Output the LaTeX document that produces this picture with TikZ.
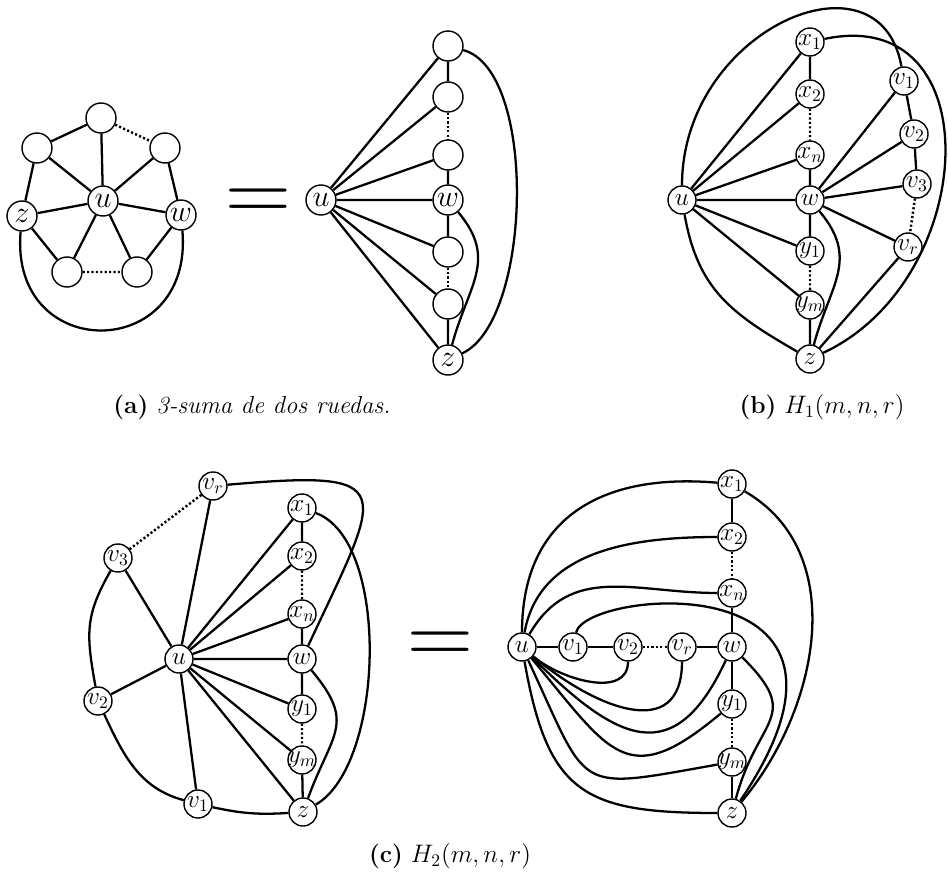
\documentclass[tikz,border=0pt]{standalone}
\usepackage{fontspec}
\begin{document}
\begin{tikzpicture}[
  x=0.2mm, y=0.2mm,
  vtx/.style={circle, draw, line width=0.8pt, inner sep=0pt, minimum size=6mm, font=\LARGE},
  svtx/.style={circle, draw, line width=0.8pt, inner sep=-1.5pt, minimum size=5.6mm, font=\Large},
  ln/.style={line width=1.3pt},
  dotln/.style={line width=1.4pt, dash pattern=on 1.2pt off 1.3pt},
  eqsign/.style={font=\fontsize{52}{52}\selectfont},
  captxt/.style={font=\fontsize{14}{17}\selectfont}
]
  \useasboundingbox (0,0) rectangle (948,-876);

  \node[vtx] (a1) at (101,-118) {};
  \node[vtx] (a2) at (37,-148) {};
  \node[vtx] (a3) at (165,-148) {};
  \node[vtx] (au) at (103,-201) {$u$};
  \node[vtx] (az) at (22,-216) {$z$};
  \node[vtx] (aw) at (181,-215) {$w$};
  \node[vtx] (a4) at (67,-272) {};
  \node[vtx] (a5) at (137,-272) {};
  \draw[ln] (a1) -- (a2) (a1) -- (au) (a2) -- (au) (a3) -- (au) (a2) -- (az) (a3) -- (aw)
    (az) -- (au) (aw) -- (au) (az) -- (a4) (aw) -- (a5) (a4) -- (au) (a5) -- (au);
  \draw[dotln] (a1) -- (a3) (a4) -- (a5);
  \draw[ln] (az) to[out=-95, in=-85, looseness=2.1] (aw);

  \node[eqsign] (eqa) at (258,-205) {=};

  \node[vtx] (u0) at (321,-200) {$u$};
  \node[vtx] (p1) at (448,-46) {};
  \node[vtx] (p2) at (448,-97) {};
  \node[vtx] (p3) at (448,-155) {};
  \node[vtx] (pw) at (448,-200) {$w$};
  \node[vtx] (p5) at (448,-252) {};
  \node[vtx] (p6) at (448,-304) {};
  \node[vtx] (pz) at (448,-360) {$z$};
  \draw[ln] (u0) -- (p1) (u0) -- (p2) (u0) -- (p3) (u0) -- (pw) (u0) -- (p5) (u0) -- (p6) (u0) -- (pz)
    (p1) -- (p2) (p3) -- (pw) (pw) -- (p5) (p6) -- (pz);
  \draw[dotln] (p2) -- (p3) (p5) -- (p6);
  \draw[ln] (p1) to[out=-15, in=25, looseness=0.65] (pz);
  \draw[ln] (pw) to[out=-50, in=75, looseness=1.2] (pz);

  \node[captxt] (capa) at (252,-407) {\textbf{(a)} \textit{3-suma de dos ruedas.}};

  \node[svtx] (hu) at (682,-200) {$u$};
  \node[svtx] (hx1) at (810,-42) {$x_1$};
  \node[svtx] (hx2) at (810,-94) {$x_2$};
  \node[svtx] (hxn) at (810,-155) {$x_n$};
  \node[svtx] (hw) at (810,-200) {$w$};
  \node[svtx] (hy1) at (810,-251) {$y_1$};
  \node[svtx] (hym) at (810,-305) {$y_m$};
  \node[svtx] (hz) at (810,-359) {$z$};
  \node[svtx] (hv1) at (904,-81) {$v_1$};
  \node[svtx] (hv2) at (914,-134) {$v_2$};
  \node[svtx] (hv3) at (917,-184) {$v_3$};
  \node[svtx] (hvr) at (908,-247) {$v_r$};
  \draw[ln] (hu) -- (hx1) (hu) -- (hx2) (hu) -- (hxn) (hu) -- (hw) (hu) -- (hy1) (hu) -- (hym)
    (hx1) -- (hx2) (hxn) -- (hw) (hw) -- (hy1) (hym) -- (hz)
    (hw) -- (hv1) (hw) -- (hv2) (hw) -- (hv3) (hw) -- (hvr)
    (hv1) -- (hv2) (hv2) -- (hv3) (hvr) -- (hz);
  \draw[dotln] (hx2) -- (hxn) (hy1) -- (hym) (hv3) -- (hvr);
  \draw[ln] (hu) to[out=90, in=100, out distance=31mm, in distance=25mm] (hv1);
  \draw[ln] (hx1) to[out=12, in=25, looseness=1.4] (hz);
  \draw[ln] (hu) to[out=-80, in=150, looseness=1.1] (hz);
  \draw[ln] (hw) to[out=-50, in=75, looseness=1.2] (hz);

  \node[captxt] (capb) at (822,-407) {\textbf{(b)} $H_1(m,n,r)$};

  \node[svtx] (lu) at (179,-659) {$u$};
  \node[svtx] (lvr) at (213,-486) {$v_r$};
  \node[svtx] (lv3) at (118,-558) {$v_3$};
  \node[svtx] (lv2) at (98,-701) {$v_2$};
  \node[svtx] (lv1) at (198,-804) {$v_1$};
  \node[svtx] (lx1) at (302,-508) {$x_1$};
  \node[svtx] (lx2) at (302,-556) {$x_2$};
  \node[svtx] (lxn) at (302,-614) {$x_n$};
  \node[svtx] (lw) at (302,-659) {$w$};
  \node[svtx] (ly1) at (302,-709) {$y_1$};
  \node[svtx] (lym) at (302,-760) {$y_m$};
  \node[svtx] (lz) at (303,-812) {$z$};
  \draw[ln] (lu) -- (lvr) (lu) -- (lv3) (lu) -- (lv2) (lu) -- (lv1)
    (lu) -- (lx1) (lu) -- (lx2) (lu) -- (lxn) (lu) -- (lw) (lu) -- (ly1) (lu) -- (lym) (lu) -- (lz)
    (lx1) -- (lx2) (lxn) -- (lw) (lw) -- (ly1) (lym) -- (lz);
  \draw[dotln] (lvr) -- (lv3) (lx2) -- (lxn) (ly1) -- (lym);
  \draw[ln] (lv3) to[out=-120, in=100, looseness=1.15] (lv2);
  \draw[ln] (lv2) to[out=-65, in=165] (lv1);
  \draw[ln] (lv1) to[bend right=8] (lz);
  \draw[ln] (lvr) to[out=5, in=65, looseness=2.5] (lw);
  \draw[ln] (lx1) to[out=-20, in=30, looseness=0.7] (lz);
  \draw[ln] (lw) to[out=-50, in=70, looseness=1.4] (lz);

  \node[eqsign] (eqc) at (440,-648) {=};

  \node[svtx] (ru) at (522,-647) {$u$};
  \node[svtx] (rv1) at (573,-647) {$v_1$};
  \node[svtx] (rv2) at (628,-647) {$v_2$};
  \node[svtx] (rvr) at (682,-647) {$v_r$};
  \node[svtx] (rw) at (732,-647) {$w$};
  \node[svtx] (rx1) at (732,-484) {$x_1$};
  \node[svtx] (rx2) at (732,-537) {$x_2$};
  \node[svtx] (rxn) at (732,-593) {$x_n$};
  \node[svtx] (ry1) at (732,-704) {$y_1$};
  \node[svtx] (rym) at (732,-762) {$y_m$};
  \node[svtx] (rz) at (732,-813) {$z$};
  \draw[ln] (ru) -- (rv1) (rv1) -- (rv2) (rvr) -- (rw)
    (rx1) -- (rx2) (rxn) -- (rw) (rw) -- (ry1) (rym) -- (rz);
  \draw[dotln] (rv2) -- (rvr) (rx2) -- (rxn) (ry1) -- (rym);
  \draw[ln] (ru) to[out=90, in=175, looseness=1.2] (rx1);
  \draw[ln] (ru) to[out=80, in=180] (rx2);
  \draw[ln] (ru) to[out=60, in=180, looseness=1.1] (rxn);
  \draw[ln] (ru) to[out=-40, in=-90] (rv2);
  \draw[ln] (ru) to[out=-40, in=-90, looseness=1.4] (rvr);
  \draw[ln] (ru) to[out=-45, in=-115, looseness=1.6] (rw);
  \draw[ln] (ru) to[out=-50, in=-140, looseness=1.6] (ry1);
  \draw[ln] (ru) to[out=-65, in=-170, looseness=1.75] (rym);
  \draw[ln] (ru) to[out=-80, in=180, looseness=1.4] (rz);
  \draw[ln] (rv1) to[out=78, in=56, out distance=8.8mm, in distance=58mm] (rz);
  \draw[ln] (rw) to[out=-45, in=75, looseness=1.55] (rz);
  \draw[ln] (rx1) to[out=-30, in=50] (rz);

  \node[captxt] (capc) at (450,-856) {\textbf{(c)} $H_2(m,n,r)$};
\end{tikzpicture}
\end{document}
